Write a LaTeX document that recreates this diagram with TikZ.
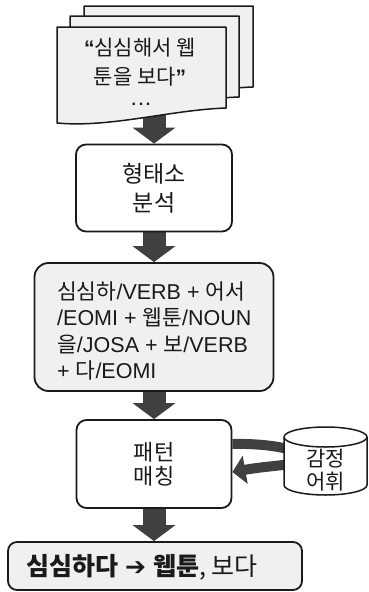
\documentclass[tikz,border=0pt]{standalone}
\usepackage{fontspec}
\setmainfont{Liberation Sans}
\newfontfamily\kr{Noto Sans CJK KR}
\newfontfamily\dv{DejaVu Sans}
\usetikzlibrary{arrows.meta,backgrounds}
\definecolor{arrowgray}{HTML}{404040}
\definecolor{boxgray}{HTML}{F0F0F0}
\definecolor{ink}{HTML}{1A1A1A}
\begin{document}
\begin{tikzpicture}[x=1pt,y=-1pt,
  page/.style={draw=ink, line width=1.5pt, fill=boxgray, line join=round},
  box/.style={draw=ink, line width=1.8pt, rounded corners=10pt, fill=white, align=center, inner sep=0pt, text=ink},
  flow/.style={draw=arrowgray, line width=23pt, -{Triangle[width=42pt,length=16pt]}},
  loopflow/.style={draw=arrowgray, line width=10pt, -{Triangle[width=28pt,length=13pt]}},
  krtext/.style={text=ink, align=center, inner sep=0pt}
]
\useasboundingbox (0,0) rectangle (368,592);

% stacked document pages
\foreach \dx/\dy in {27/-21, 13/-11, 0/0}{
  \begin{scope}[shift={(\dx,\dy)}]
    \path[page] (57,27) -- (226,27) -- (226,108) .. controls (170,110) and (110,128) .. (57,123) -- cycle;
  \end{scope}
}
\node[krtext, font=\kr\fontsize{21}{29}\selectfont] (doc) at (140,62)
  {{\rmfamily\bfseries “}심심해서 웹\\툰을 보다{\rmfamily\bfseries ”}};
\node[font=\bfseries\fontsize{16}{16}\selectfont, text=ink, inner sep=0pt] (dots) at (141,104) {.\,.\,.};
\coordinate (docbot) at (154,104);

% boxes
\node[box, minimum width=156pt, minimum height=87pt, font=\kr\fontsize{23}{29}\selectfont] (morph) at (154,188) {형태소\\분석};

\node[box, fill=boxgray, rounded corners=14pt, minimum width=239pt, minimum height=128pt] (tags) at (154,327) {};
\node[krtext, anchor=west, align=left, font=\fontsize{21.5}{26.5}\selectfont] (tagtext) at (57,331)
  {{\kr 심심하}/VERB + {\kr 어서}\\/EOMI + {\kr 웹툰}/NOUN\\{\kr 을}/JOSA + {\kr 보}/VERB\\+ {\kr 다}/EOMI};

\node[box, minimum width=155pt, minimum height=88pt, font=\kr\fontsize{22}{24}\selectfont] (match) at (154,464) {패턴\\매칭};

\node[box, fill=boxgray, rounded corners=9pt, minimum width=294pt, minimum height=48pt] (result) at (155,566) {};
\node[anchor=west, inner sep=0pt, text=ink, font=\fontsize{25}{28}\selectfont] (restext) at (26,567)
  {{\kr\bfseries 심심하다} {\dv\bfseries ➔} {\kr\bfseries 웹툰}{\kr , 보다}};

% connectors (behind shapes)
\begin{pgfonlayer}{background}
  \draw[flow] (docbot) -- (morph.north);
  \draw[flow] (morph.south) -- (tags.north);
  \draw[flow] (tags.south) -- (match.north);
  \draw[flow] (match.south) -- (match.south |- result.north);
\end{pgfonlayer}

% loop arrow to/from the lexicon
\draw[loopflow] ([yshift=20pt]match.east) .. controls (272,443) and (305,451) .. (305,458)
   .. controls (305,465) and (272,465) .. ([yshift=-8pt]match.east);

% cylinder (lexicon)
\path[draw=ink, line width=1.5pt, fill=white]
  (284,437) -- (284,485) arc[start angle=180, end angle=360, x radius=41.5pt, y radius=10pt]
  -- (367,437) arc[start angle=0, end angle=180, x radius=41.5pt, y radius=10pt] -- cycle;
\draw[ink, line width=1.5pt] (284,437) arc[start angle=180, end angle=360, x radius=41.5pt, y radius=10pt];
\node[krtext, font=\kr\fontsize{21}{23}\selectfont] (lex) at (325.5,470) {감정\\어휘};
\end{tikzpicture}
\end{document}
